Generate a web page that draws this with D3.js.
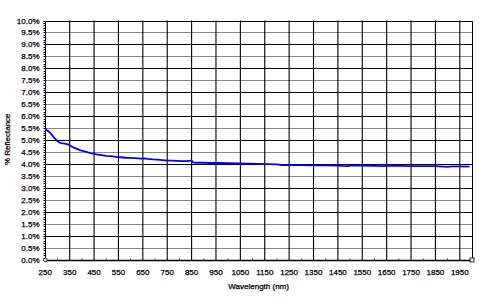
<!DOCTYPE html>
<html>
  <head>
    <meta charset="utf-8">
    <title>Reflectance chart</title>
    <script src="https://cdn.jsdelivr.net/npm/d3@7"></script>
    <style>
      body { margin: 0; background: #fff; }
      #chart { display: block; width: 480px; height: 301px; }
      text { font-family: "Liberation Sans", Arial, sans-serif; font-size: 8px; fill: #000; stroke: #000; stroke-width: 0.25px; }
    </style>
  </head>

  <body>
    <svg id="chart" width="480" height="301"></svg>

    <script>
      // data
      wavelength = [250, 255, 265, 275, 285, 295, 305, 315, 330, 345, 355, 365, 380, 395, 410, 425, 440, 460,
        480, 500, 520, 540, 560, 580, 600, 620, 640, 655, 670, 690, 710, 730, 750, 770, 790, 810, 830, 845,
        850, 855, 870, 900, 930, 960, 1000, 1040, 1080, 1120, 1160, 1200, 1220, 1250, 1300, 1350, 1400, 1450,
        1490, 1500, 1550, 1600, 1630, 1650, 1700, 1750, 1800, 1850, 1900, 1920, 1950, 1990];
      reflectance = [5.50, 5.42, 5.36, 5.25, 5.12, 5.02, 4.92, 4.88, 4.86, 4.82, 4.76, 4.70, 4.64, 4.58, 4.54, 4.49, 4.45, 4.41,
        4.38, 4.35, 4.34, 4.31, 4.29, 4.27, 4.26, 4.25, 4.23, 4.24, 4.22, 4.20, 4.19, 4.17, 4.15, 4.15, 4.14, 4.13, 4.13, 4.15,
        4.16, 4.08, 4.06, 4.06, 4.05, 4.05, 4.04, 4.03, 4.02, 4.01, 4.00, 3.99, 3.96, 3.97, 3.96, 3.95, 3.95, 3.94,
        3.92, 3.94, 3.94, 3.93, 3.92, 3.93, 3.93, 3.92, 3.92, 3.92, 3.89, 3.91, 3.91, 3.90];
      xTicks = d3.range(250, 2000, 100);
      yTicks = d3.range(0, 10.01, 0.5);

      chartData = wavelength.map((w, i) => ({ nm: w, pct: reflectance[i] }));

      chart = d3.select("#chart");
      margin = {top: 20.5, bottom: 41, left: 45.3, right: 8};
      width = 480;
      height = 301;

      x = d3.scaleLinear()
          .domain([250, 2000])
          .range([margin.left, width - margin.right]);

      y = d3.scaleLinear()
          .domain([0, 10])
          .range([height - margin.bottom, margin.top]);

      // horizontal grid, black on whole percent, grey on halves
      chart.append("g")
        .selectAll("line")
        .data(yTicks)
        .join("line")
          .attr("x1", x(250))
          .attr("x2", x(2000))
          .attr("y1", d => Math.round(y(d)) + 0.5)
          .attr("y2", d => Math.round(y(d)) + 0.5)
          .attr("stroke", d => Math.round(d * 2) % 2 == 0 ? "#000" : "#8a8a8a")
          .attr("stroke-width", 1);

      // vertical grid
      chart.append("g")
        .selectAll("line")
        .data(xTicks.slice(1))
        .join("line")
          .attr("x1", d => x(d))
          .attr("x2", d => x(d))
          .attr("y1", y(10))
          .attr("y2", y(0))
          .attr("stroke", "#000")
          .attr("stroke-width", 1.1);

      // plot frame
      chart.append("rect")
          .attr("x", Math.round(x(250)) + 0.5)
          .attr("y", Math.round(y(10)) + 0.5)
          .attr("width", Math.round(x(2000)) - Math.round(x(250)))
          .attr("height", Math.round(y(0)) - Math.round(y(10)))
          .attr("fill", "none")
          .attr("stroke", "#000");

      // left axis minor ticks
      chart.append("g")
        .selectAll("line")
        .data(d3.range(0, 10.01, 0.1))
        .join("line")
          .attr("x1", Math.round(x(250)) + 0.5)
          .attr("x2", Math.round(x(250)) - 1.5)
          .attr("y1", d => Math.round(y(d)) + 0.5)
          .attr("y2", d => Math.round(y(d)) + 0.5)
          .attr("stroke", "#000");

      // bottom axis minor ticks
      chart.append("g")
        .selectAll("line")
        .data(xTicks.map(d => d + 50))
        .join("line")
          .attr("x1", d => x(d))
          .attr("x2", d => x(d))
          .attr("y1", Math.round(y(0)))
          .attr("y2", Math.round(y(0)) - 2)
          .attr("stroke", "#777");

      // bottom axis line a touch heavier
      chart.append("line")
          .attr("x1", x(250))
          .attr("x2", x(2000))
          .attr("y1", Math.round(y(0)) + 0.5)
          .attr("y2", Math.round(y(0)) + 0.5)
          .attr("stroke", "#000")
          .attr("stroke-width", 1.5);

      // y tick labels
      chart.append("g")
        .selectAll("text")
        .data(yTicks)
        .join("text")
          .attr("x", 39.5)
          .attr("y", d => y(d) + 3)
          .attr("text-anchor", "end")
          .text(d => d3.format(".1f")(d) + "%");

      // x tick labels
      chart.append("g")
        .selectAll("text")
        .data(xTicks)
        .join("text")
          .attr("x", d => x(d))
          .attr("y", 274.5)
          .attr("text-anchor", "middle")
          .text(d => d);

      // axis titles
      chart.append("text")
          .attr("x", (x(250) + x(2000)) / 2)
          .attr("y", 288.5)
          .attr("text-anchor", "middle")
          .text("Wavelength (nm)");

      chart.append("text")
          .attr("transform", "translate(10, " + (y(5) - 1) + ") rotate(-90)")
          .attr("text-anchor", "middle")
          .text("% Reflectance");

      // data line
      linePath = d3.line()
          .x(d => x(d.nm))
          .y(d => y(d.pct));

      chart.append("path")
          .attr("d", linePath(chartData))
          .attr("fill", "none")
          .attr("stroke", "#0000ff")
          .attr("stroke-width", 1.8)
          .attr("stroke-linejoin", "round");

      // small markers at the axis corners
      chart.append("circle")
          .attr("cx", x(250))
          .attr("cy", y(0))
          .attr("r", 1.8)
          .attr("fill", "#fff")
          .attr("stroke", "#000")
          .attr("stroke-width", 0.8);

      chart.append("rect")
          .attr("x", x(2000) - 2)
          .attr("y", y(0) - 2)
          .attr("width", 4)
          .attr("height", 4)
          .attr("fill", "#fff")
          .attr("stroke", "#000")
          .attr("stroke-width", 0.8);
    </script>
  </body>
</html>
